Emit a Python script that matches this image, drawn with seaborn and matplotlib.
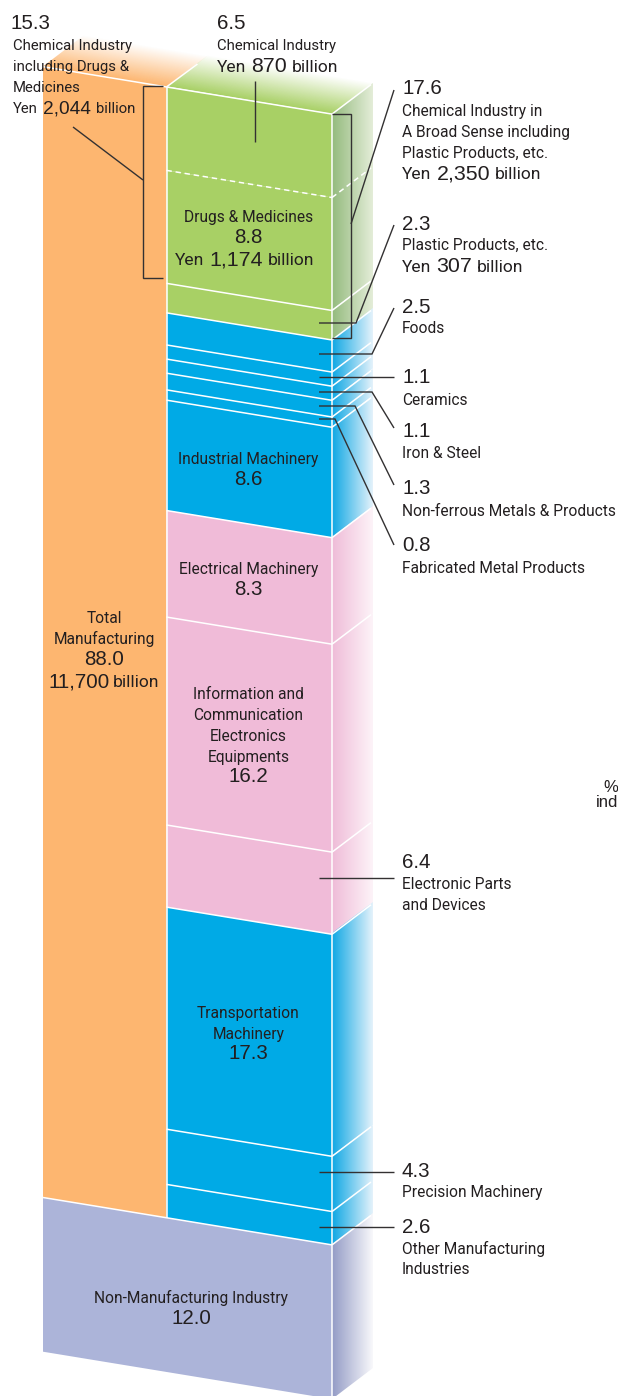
import numpy as np
import matplotlib
matplotlib.use('Agg')
import matplotlib.pyplot as plt
from matplotlib.colors import to_rgb
from matplotlib.transforms import Affine2D
import seaborn as sns

# ==========================================
# 1. Data (percent of total)
# ==========================================
LEFT_NAMES = ['Total Manufacturing', 'Non-Manufacturing Industry']
LEFT_VALUES = [88.0, 12.0]

RIGHT_NAMES = ['Chemical Industry', 'Drugs & Medicines', 'Plastic Products, etc.', 'Foods',
               'Ceramics', 'Iron & Steel', 'Non-ferrous Metals & Products',
               'Fabricated Metal Products', 'Industrial Machinery', 'Electrical Machinery',
               'Information and Communication Electronics Equipments',
               'Electronic Parts and Devices', 'Transportation Machinery',
               'Precision Machinery', 'Other Manufacturing Industries']
RIGHT_VALUES = [6.5, 8.8, 2.3, 2.5, 1.1, 1.1, 1.3, 0.8, 8.6, 8.3, 16.2, 6.4, 17.3, 4.3, 2.6]
RIGHT_GROUPS = ['green'] * 3 + ['blue'] * 6 + ['pink'] * 3 + ['blue'] * 3

# ==========================================
# 2. Style and geometry
# ==========================================
W, H = 618, 1396
PCT_PX = 12.85      # pixels per percent
TOP_PX = 66.7       # y of the 0% line at the left edge
SLOPE = 0.164       # front face tilt, px per px
LEFT_X, MID_X, RIGHT_X = 43, 166.5, 332
DEPTH_X, DEPTH_Y = 41, 31

FRONT = {'orange': '#fdb670', 'green': '#a8d065', 'blue': '#00aae6',
         'pink': '#f0bbd8', 'lavender': '#acb4d9'}
SIDE = {'green': ('#94bb7e', '#e4edd8'), 'blue': ('#10a8e4', '#e4f2fb'),
        'pink': ('#efbcd8', '#fdf3f8'), 'lavender': ('#949cc6', '#f8f8fb')}
INK = '#231f20'
LABEL_FONT = ['Roboto', 'Liberation Sans', 'DejaVu Sans']
NUM_FONT = ['Liberation Sans', 'DejaVu Sans']
LABEL_SIZE = 11.2
SMALL_SIZE = 10.7   # the two notes at the top are set tighter
WORD_SIZE = 12.6    # 'Yen' and 'billion'
NUM_SIZE = 14.8

sns.set_theme(style='white')
plt.rcParams['font.family'] = NUM_FONT

fig = plt.figure(figsize=(W / 100, H / 100), dpi=100)
ax = fig.add_axes([0, 0, 1, 1])

K = SLOPE / PCT_PX
front_tf = Affine2D(np.array([[1, 0, 0], [K, 1, -K * LEFT_X], [0, 0, 1]])) + ax.transData
side_tf = Affine2D(np.array([[1, 0, 0],
                             [-DEPTH_Y / DEPTH_X / PCT_PX, 1,
                              (DEPTH_Y / DEPTH_X / PCT_PX) * RIGHT_X + K * (RIGHT_X - LEFT_X)],
                             [0, 0, 1]])) + ax.transData
px_tf = Affine2D().scale(1, -1).translate(0, H)


# ==========================================
# 3. Helpers
# ==========================================
def stack_bar(center, width, bottom, value, color):
    sns.barplot(x=[center], y=[value], native_scale=True, width=width, bottom=bottom,
                color=color, saturation=1, linewidth=0, errorbar=None, ax=ax)
    ax.patches[-1].set_transform(front_tf)


def gradient_face(x0, p0, ex, ep, dx, dp, start, end, a_start=1.0, a_end=1.0):
    """Parallelogram image, the colour runs along the depth direction"""
    t = np.linspace(0, 1, 64)[:, None, None]
    c0, c1 = np.array(to_rgb(start)), np.array(to_rgb(end))
    rgb = c0[None, None, :] * (1 - t) + c1[None, None, :] * t
    alpha = a_start * (1 - t) + a_end * t
    img = np.concatenate([rgb, alpha], axis=2)
    tf = Affine2D(np.array([[ex, dx, x0], [ep, dp, p0], [0, 0, 1]])) + ax.transData
    ax.imshow(img, extent=(0, 1, 0, 1), origin='lower', aspect='auto',
              interpolation='bilinear', transform=tf, zorder=1)


def skew_p(x, p):
    return p + K * (x - LEFT_X)


def label(x, y, s, ha='left', size=LABEL_SIZE, font=LABEL_FONT):
    return ax.text(x, y, s, transform=px_tf, ha=ha, va='baseline', fontsize=size,
                   family=font, color=INK, zorder=6)


def number(x, y, s, ha='left', size=NUM_SIZE):
    return label(x, y, s, ha=ha, size=size, font=NUM_FONT)


def yen(x, y, amount, ha='left', gap=5, word=WORD_SIZE, num=15.4):
    """'Yen 870 billion' line: words around a bigger number"""
    rend = fig.canvas.get_renderer()
    a = label(x, y, 'Yen', size=word)
    b = number(x, y, amount, size=num)
    c = label(x, y, 'billion', size=word)
    wa, wb, wc = [t.get_window_extent(rend).width for t in (a, b, c)]
    start = x - (wa + wb + wc + 2 * gap) / 2 if ha == 'center' else x
    a.set_x(start)
    b.set_x(start + wa + gap)
    c.set_x(start + wa + wb + 2 * gap)


def leader(xs, ys):
    ax.plot(xs, ys, transform=px_tf, color='#333132', lw=1.0, zorder=5,
            solid_joinstyle='miter', solid_capstyle='butt')


# ==========================================
# 4. Bars
# ==========================================
left_edges = np.concatenate([[0], np.cumsum(LEFT_VALUES)])
right_edges = np.concatenate([[0], np.cumsum(RIGHT_VALUES)])
right_edges = right_edges * left_edges[1] / right_edges[-1]  # the parts add up to 88.1 after rounding

# top faces fade out to white
for x0, x1, col in [(LEFT_X, MID_X, 'orange'), (MID_X, RIGHT_X, 'green')]:
    gradient_face(x0, skew_p(x0, 0), x1 - x0, K * (x1 - x0), DEPTH_X, -DEPTH_Y / PCT_PX,
                  FRONT[col], FRONT[col], 1.0, 0.0)

# right side faces
for i, val in enumerate(RIGHT_VALUES):
    s0, s1 = SIDE[RIGHT_GROUPS[i]]
    gradient_face(RIGHT_X, skew_p(RIGHT_X, right_edges[i]), 0,
                  right_edges[i + 1] - right_edges[i], DEPTH_X, -DEPTH_Y / PCT_PX, s0, s1)
s0, s1 = SIDE['lavender']
gradient_face(RIGHT_X, skew_p(RIGHT_X, left_edges[1]), 0, LEFT_VALUES[1],
              DEPTH_X, -DEPTH_Y / PCT_PX, s0, s1)

# front faces, one seaborn bar per segment
stack_bar((LEFT_X + MID_X) / 2, MID_X - LEFT_X, 0, LEFT_VALUES[0], FRONT['orange'])
stack_bar((LEFT_X + RIGHT_X) / 2, RIGHT_X - LEFT_X, left_edges[1], LEFT_VALUES[1], FRONT['lavender'])
for i, grp in enumerate(RIGHT_GROUPS):
    stack_bar((MID_X + RIGHT_X) / 2, RIGHT_X - MID_X, right_edges[i],
              right_edges[i + 1] - right_edges[i], FRONT[grp])

# white separators
WHITE = dict(color='white', lw=1.1, zorder=3, solid_capstyle='butt')
DASH = dict(color='white', lw=1.1, zorder=3, dashes=(3.5, 2.5))
for i, p in enumerate(right_edges):
    if p == left_edges[1]:
        continue
    style = DASH if i == 1 else WHITE
    ax.plot([MID_X, RIGHT_X], [p, p], transform=front_tf, **style)
    ax.plot([RIGHT_X, RIGHT_X + DEPTH_X - 2], [p, p], transform=side_tf, **style)
ax.plot([LEFT_X, MID_X], [0, 0], transform=front_tf, **WHITE)
ax.plot([LEFT_X, RIGHT_X], [left_edges[1]] * 2, transform=front_tf, **WHITE)
ax.plot([RIGHT_X, RIGHT_X + DEPTH_X - 2], [left_edges[1]] * 2, transform=side_tf, **WHITE)
ax.plot([MID_X, MID_X], [0, left_edges[1]], transform=front_tf, **WHITE)
ax.plot([MID_X, MID_X + DEPTH_X - 10], [skew_p(MID_X, 0), skew_p(MID_X, 0) - (DEPTH_Y - 8) / PCT_PX], **WHITE)
ax.plot([RIGHT_X, RIGHT_X], [0, left_edges[2]], transform=front_tf, **WHITE)

ax.set_xlim(0, W)
ax.set_ylim((H - TOP_PX) / PCT_PX, -TOP_PX / PCT_PX)
ax.set_axis_off()
fig.canvas.draw()

# ==========================================
# 5. Text and leader lines
# ==========================================
number(10, 29, '15.3')
label(13, 50, 'Chemical Industry', size=SMALL_SIZE)
label(13, 71, 'including Drugs &', size=SMALL_SIZE)
label(13, 92, 'Medicines', size=SMALL_SIZE)
yen(13, 113, '2,044', word=SMALL_SIZE, num=13.8)

number(217, 29, '6.5')
label(217, 50, 'Chemical Industry', size=SMALL_SIZE)
yen(217, 72, '870')

number(402, 94, '17.6')
label(402, 116, 'Chemical Industry in')
label(402, 137, 'A Broad Sense including')
label(402, 158, 'Plastic Products, etc.')
yen(402, 179, '2,350')

number(402, 230, '2.3')
label(402, 250, 'Plastic Products, etc.')
yen(402, 272, '307')

number(402, 313, '2.5')
label(402, 333, 'Foods')
number(402, 383, '1.1')
label(402, 405, 'Ceramics')
number(402, 437, '1.1')
label(402, 458, 'Iron & Steel')
number(402, 494, '1.3')
label(402, 516, 'Non-ferrous Metals & Products')
number(402, 551, '0.8')
label(402, 573, 'Fabricated Metal Products')
number(402, 868, '6.4')
label(402, 889, 'Electronic Parts')
label(402, 910, 'and Devices')
number(402, 1177, '4.3')
label(402, 1197, 'Precision Machinery')
number(402, 1233, '2.6')
label(402, 1254, 'Other Manufacturing')
label(402, 1274, 'Industries')

label(248.5, 222, 'Drugs & Medicines', ha='center')
number(248.5, 243, '8.8', ha='center')
yen(245, 265, '1,174', ha='center')
label(248.5, 464, 'Industrial Machinery', ha='center')
number(248.5, 485, '8.6', ha='center')
label(248.5, 574, 'Electrical Machinery', ha='center')
number(248.5, 595, '8.3', ha='center')
for y, s in zip([699, 720, 741, 762], ['Information and', 'Communication', 'Electronics', 'Equipments']):
    label(248.5, y, s, ha='center')
number(248.5, 782, '16.2', ha='center')
label(248.5, 1018, 'Transportation', ha='center')
label(248.5, 1039, 'Machinery', ha='center')
number(248.5, 1059, '17.3', ha='center')

label(104, 623, 'Total', ha='center')
label(104, 644, 'Manufacturing', ha='center')
number(104, 665, '88.0', ha='center')
number(48, 687, '11,700')
label(113, 687, 'billion', size=WORD_SIZE)
label(191, 1303, 'Non-Manufacturing Industry', ha='center')
number(191, 1324, '12.0', ha='center')

label(618, 792, '%', ha='right', font=NUM_FONT, size=12)
label(618, 807, 'ind', ha='right', font=NUM_FONT, size=12)

leader([163, 143, 143, 163], [86, 86, 278, 278])
leader([73, 143], [127, 180])
leader([254.5, 254.5], [81, 142])
leader([332, 351, 351, 332], [114, 114, 338, 338])
leader([351, 394], [224, 90])
leader([319, 356, 394], [323, 323, 225])
leader([319, 372, 394], [354, 354, 308])
leader([319, 394], [377, 377])
leader([319, 372, 394], [392, 392, 428])
leader([319, 355, 394], [406, 406, 485])
leader([319, 335, 394], [419, 419, 545])
leader([319, 394], [878, 878])
leader([319, 394], [1172, 1172])
leader([319, 394], [1227, 1227])

ax.set_xlim(0, W)
ax.set_ylim((H - TOP_PX) / PCT_PX, -TOP_PX / PCT_PX)
fig.savefig('out.png', dpi=100, facecolor='white')
plt.close(fig)
